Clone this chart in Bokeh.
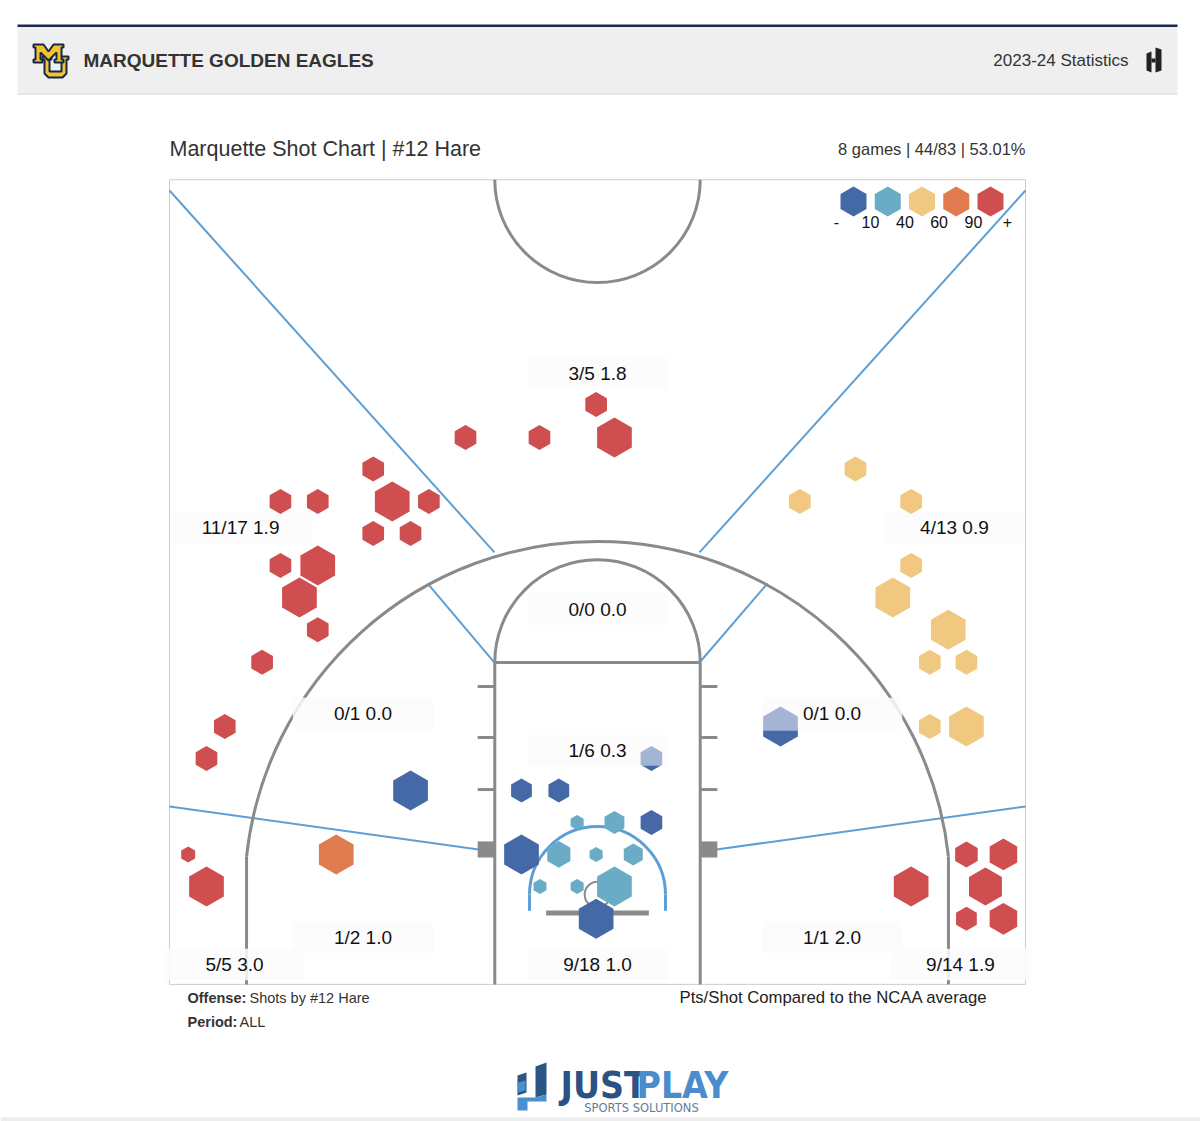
import numpy as np
from bokeh.plotting import figure
from bokeh.models import Range1d
from bokeh.core.properties import value
from bokeh.embed import file_html
from bokeh.resources import INLINE

# ---------------- data ----------------
team_name = "MARQUETTE GOLDEN EAGLES"
season_label = "2023-24 Statistics"
chart_title = "Marquette Shot Chart | #12 Hare"
games_played = 8

# shot zones: makes, attempts, point value
zone_names = ["top three", "left wing three", "right wing three", "top of key",
              "left midrange", "right midrange", "paint", "left baseline",
              "right baseline", "left corner three", "at the rim", "right corner three"]
zone_made = [3, 11, 4, 0, 0, 0, 1, 1, 1, 5, 9, 9]
zone_att = [5, 17, 13, 0, 1, 1, 6, 2, 1, 5, 18, 14]
zone_pts = [3, 3, 3, 2, 2, 2, 2, 2, 2, 3, 2, 3]

# hexbin cells (court feet, hoop at origin), cell size (ft), colour class 0..4
hex_x = [-0.08, -7.71, -3.39, 0.99, -13.10, -18.52, -16.34, -11.99, -9.85, -13.10,
         -10.92, -18.52, -16.34, -17.41, -16.34, -19.59, -21.77, -22.84, -23.91, -22.84,
         21.55, 23.71, 18.32, 22.66, 21.55, 23.71,
         15.07, 11.82, 18.32, 18.32, 17.25, 20.49, 19.41, 21.55, 19.41, 21.55,
         -15.26,
         -1.19, 0.99, -2.26, -0.08, 2.09, -3.36, -1.19, 0.99,
         -10.92, -4.44, -2.26, 3.15, -4.44, -0.08]
hex_y = [28.62, 26.69, 26.69, 26.69, 24.86, 22.96, 22.96, 22.96, 22.96, 21.09,
         21.09, 19.22, 19.22, 17.35, 15.46, 13.57, 9.81, 7.94, 2.34, 0.47,
         2.34, 2.34, 0.47, 0.47, -1.42, -1.42,
         24.86, 22.96, 22.96, 19.22, 17.35, 15.46, 13.57, 13.57, 9.81, 9.81,
         2.34,
         4.21, 4.21, 2.34, 2.34, 2.34, 0.47, 0.47, 0.47,
         6.08, 6.08, 6.08, 4.21, 2.34, -1.42]
hex_size = [0.73, 0.73, 0.73, 1.17, 0.73, 0.73, 0.73, 1.17, 0.73, 0.73,
            0.73, 0.73, 1.17, 1.17, 0.73, 0.73, 0.73, 0.73, 0.47, 1.17,
            0.76, 0.93, 1.17, 1.11, 0.70, 0.93,
            0.73, 0.73, 0.73, 0.73, 1.17, 1.17, 0.73, 0.73, 0.73, 1.17,
            1.17,
            0.44, 0.67, 0.78, 0.44, 0.64, 0.44, 0.44, 1.17,
            1.17, 0.70, 0.70, 0.73, 1.17, 1.17]
hex_class = [4] * 26 + [2] * 10 + [3] + [1] * 8 + [0] * 6

# cells drawn with a faded upper part (share of height kept solid from the bottom)
split_x = [10.69, 3.15]
split_y = [9.81, 7.95]
split_size = [1.17, 0.73]
split_solid = [0.40, 0.22]

legend_ticks = ["-", "10", "40", "60", "90", "+"]
palette = ["#4568a7", "#6aacc6", "#f0c880", "#e07b4f", "#cf4e4f"]
faded_blue = "#a3b4d5"

# ---------------- derived values ----------------
zone_pps = [(m * v / a) if a else 0.0 for m, a, v in zip(zone_made, zone_att, zone_pts)]
zone_text = [f"{m}/{a} {s:.1f}" for m, a, s in zip(zone_made, zone_att, zone_pps)]
tot_made, tot_att = sum(zone_made), sum(zone_att)
summary = f"{games_played} games | {tot_made}/{tot_att} | {100 * tot_made / tot_att:.2f}%"

# zone label anchor points (court feet)
label_x = [0, -20.85, 20.85, 0, -13.7, 13.7, 0, -13.7, 13.7, -21.2, 0, 21.2]
label_y = [30.43, 21.44, 21.44, 16.65, 10.57, 10.57, 8.41, -2.51, -2.51, -4.09, -4.09, -4.09]

FONT = value("Liberation Sans")

# ---------------- figure / layout ----------------
W, H = 1200, 1121
PX_FT = 17.12
HOOP_PX, HOOP_PY = 597.0, 894.0

p = figure(width=W, height=H, x_range=Range1d(0, W), y_range=Range1d(H, 0),
           output_backend="svg", toolbar_location=None, min_border=0,
           x_axis_location=None, y_axis_location=None,
           outline_line_color=None, background_fill_color="white",
           border_fill_color="white")
p.xgrid.visible = False
p.ygrid.visible = False

# court coordinates in feet, hoop at the origin
p.extra_x_ranges = {"court": Range1d(-HOOP_PX / PX_FT, (W - HOOP_PX) / PX_FT)}
p.extra_y_ranges = {"court": Range1d((HOOP_PY - H) / PX_FT, HOOP_PY / PX_FT)}
CK = dict(x_range_name="court", y_range_name="court")


def hex_ring(cx, cy, r):
    ang = np.deg2rad(np.arange(30, 390, 60))
    return list(cx + r * np.cos(ang)), list(cy + r * np.sin(ang))


def clip_half(xs, ys, y0, keep_below):
    pts = list(zip(xs, ys))
    inside = (lambda q: q[1] <= y0) if keep_below else (lambda q: q[1] >= y0)
    out = []
    for i in range(len(pts)):
        a, b = pts[i], pts[(i + 1) % len(pts)]
        ia, ib = inside(a), inside(b)
        if ia:
            out.append(a)
        if ia != ib:
            t = (y0 - a[1]) / (b[1] - a[1])
            out.append((a[0] + t * (b[0] - a[0]), y0))
    return [q[0] for q in out], [q[1] for q in out]


# ---------------- page header ----------------
p.quad(left=17, right=1177, top=24, bottom=26.5, fill_color="#1d2b4a", line_color=None)
p.quad(left=17, right=1177, top=26.5, bottom=93, fill_color="#efefef", line_color=None)
p.segment(x0=17, y0=93.5, x1=1177, y1=93.5, line_color="#d2d2d2", line_width=1)

# MU monogram
u_x = [42, 51, 51, 49, 49, 61, 61, 59, 59, 68, 68, 66, 66, 62, 48, 44, 44, 42]
u_y = [56, 56, 59, 59, 71, 71, 59, 59, 56, 56, 59, 59, 73, 77, 77, 73, 59, 59]
m_x = [33, 43, 48, 53, 63, 63, 61, 61, 63, 63, 54, 54, 56, 56, 48, 40, 40, 42, 42, 33, 33, 35, 35, 33]
m_y = [44, 44, 51, 44, 44, 47, 47, 59, 59, 62, 62, 59, 59, 52, 60, 52, 59, 59, 62, 62, 59, 59, 47, 47]
p.patches(xs=[u_x, m_x], ys=[u_y, m_y], fill_color="#f2c230", line_color="#13294b", line_width=2)

p.text(x=[83], y=[60], text=[team_name], text_font=FONT, text_font_style="bold",
       text_font_size="19px", text_color="#333333", text_align="left", text_baseline="middle")
p.text(x=[1128], y=[60], text=[season_label], text_font=FONT, text_font_size="17px",
       text_color="#333333", text_align="right", text_baseline="middle")
# small brand mark
p.patches(xs=[[1146, 1151, 1151, 1146], [1155, 1161, 1161, 1155], [1151, 1155, 1155, 1151]],
          ys=[[53, 51, 72, 70], [47, 49, 70, 72], [58, 58, 62, 62]],
          fill_color="#222222", line_color=None)

# ---------------- chart titles ----------------
p.text(x=[169], y=[148], text=[chart_title], text_font=FONT, text_font_size="21.5px",
       text_color="#333333", text_align="left", text_baseline="middle")
p.text(x=[1025], y=[148], text=[summary], text_font=FONT, text_font_size="16.5px",
       text_color="#333333", text_align="right", text_baseline="middle")

# ---------------- court ----------------
GRAY = "#8a8a8a"
BLUE = "#5c9fd6"
BASE, TOP = -5.25, 41.75
LANE, FT = 6.0, 13.55
R3, C3 = 20.62, 20.5
y_meet = np.sqrt(R3 ** 2 - C3 ** 2)
th0 = np.arctan2(y_meet, C3)

p.quad(left=-25, right=25, bottom=BASE, top=TOP, fill_color=None,
       line_color="#cccccc", line_width=1, **CK)

# zone boundaries
p.multi_line(xs=[[-25, -6.02], [25, 5.96], [-9.93, -6.02], [9.93, 5.96], [-25, -6.95], [25, 6.95]],
             ys=[[41.12, 19.98], [41.12, 19.98], [18.17, 13.55], [18.17, 13.55], [5.14, 2.63], [5.14, 2.63]],
             line_color=BLUE, line_width=2, **CK)

# restricted area
p.arc(x=0, y=0, radius=3.97, start_angle=0, end_angle=np.pi, line_color=BLUE, line_width=3, **CK)
p.multi_line(xs=[[-3.97, -3.97], [3.97, 3.97]], ys=[[0, -0.95], [0, -0.95]],
             line_color=BLUE, line_width=3, **CK)

# centre circle, lane, free throw circle, three point line
p.arc(x=0, y=TOP, radius=6, start_angle=np.pi, end_angle=2 * np.pi, line_color=GRAY, line_width=3, **CK)
p.multi_line(xs=[[-LANE, -LANE], [LANE, LANE], [-LANE, LANE]],
             ys=[[BASE, FT], [BASE, FT], [FT, FT]], line_color=GRAY, line_width=3, **CK)
p.arc(x=0, y=FT, radius=6, start_angle=0, end_angle=np.pi, line_color=GRAY, line_width=3, **CK)
p.arc(x=0, y=0, radius=R3, start_angle=th0, end_angle=np.pi - th0, line_color=GRAY, line_width=3, **CK)
p.multi_line(xs=[[-C3, -C3], [C3, C3]], ys=[[BASE, y_meet], [BASE, y_meet]],
             line_color=GRAY, line_width=3, **CK)

# lane hash marks and blocks
hash_y = [12.15, 9.17, 6.13]
p.multi_line(xs=[[-7, -6]] * 3 + [[6, 7]] * 3, ys=[[h, h] for h in hash_y] * 2,
             line_color=GRAY, line_width=3, **CK)
p.quad(left=[-7, 6], right=[-6, 7], bottom=[2.16, 2.16], top=[3.1, 3.1],
       fill_color=GRAY, line_color=None, **CK)

# backboard and rim
p.segment(x0=-3, y0=-1.08, x1=3, y1=-1.08, line_color=GRAY, line_width=5, **CK)
p.arc(x=0, y=0, radius=0.75, start_angle=0, end_angle=2 * np.pi, line_color=GRAY, line_width=2, **CK)

# soft panels behind zone labels
p.rect(x=label_x, y=label_y, width=8.2, height=1.85, fill_color="#fcfcfc", fill_alpha=0.85,
       line_color=None, **CK)

# ---------------- hexbins ----------------
order = sorted(range(len(hex_x)), key=lambda i: (hex_class[i] == 0, i))
hx, hy, hc = [], [], []
for i in order:
    xs, ys = hex_ring(hex_x[i], hex_y[i], hex_size[i])
    hx.append(xs)
    hy.append(ys)
    hc.append(palette[hex_class[i]])
p.patches(xs=hx, ys=hy, fill_color=hc, line_color=None, **CK)

sx, sy, sc = [], [], []
for cx, cy, r, f in zip(split_x, split_y, split_size, split_solid):
    xs, ys = hex_ring(cx, cy, r)
    cut = cy - r + 2 * r * f
    lx, ly = clip_half(xs, ys, cut, keep_below=False)
    dx, dy = clip_half(xs, ys, cut, keep_below=True)
    sx += [lx, dx]
    sy += [ly, dy]
    sc += [faded_blue, palette[0]]
p.patches(xs=sx, ys=sy, fill_color=sc, line_color=None, **CK)

# zone labels
p.text(x=label_x, y=label_y, text=zone_text, text_font=FONT, text_font_size="19px",
       text_color="#111111", text_align="center", text_baseline="middle", **CK)

# ---------------- colour legend ----------------
leg_cx = [853, 887.25, 921.5, 955.75, 990]
lx, ly = [], []
for cx in leg_cx:
    xs, ys = hex_ring(cx, 201, 15)
    lx.append(xs)
    ly.append(ys)
p.patches(xs=lx, ys=ly, fill_color=palette, line_color=None)
tick_x = [836, 870, 904.4, 938.6, 972.9, 1007]
p.text(x=tick_x, y=[221] * 6, text=legend_ticks, text_font=FONT, text_font_size="16px",
       text_color="#111111", text_align="center", text_baseline="middle")

# ---------------- footnotes ----------------
p.text(x=[187, 187], y=[997, 1021], text=["Offense:", "Period:"], text_font=FONT,
       text_font_style="bold", text_font_size="14.5px", text_color="#333333",
       text_align="left", text_baseline="middle")
p.text(x=[249, 239], y=[997, 1021], text=["Shots by #12 Hare", "ALL"], text_font=FONT,
       text_font_size="14.5px", text_color="#333333", text_align="left", text_baseline="middle")
p.text(x=[679], y=[997], text=["Pts/Shot Compared to the NCAA average"], text_font=FONT,
       text_font_size="16.7px", text_color="#222222", text_align="left", text_baseline="middle")

# ---------------- footer brand ----------------
p.patches(xs=[[517, 526, 526, 517], [535, 546, 546, 535]],
          ys=[[1075, 1072, 1092, 1095], [1066, 1062, 1094, 1097]],
          fill_color="#2a5585", line_color=None)
p.patches(xs=[[517, 535, 546, 546, 527, 527, 517], [517, 525, 525, 517]],
          ys=[[1097, 1097, 1094, 1101, 1101, 1110, 1110], [1082, 1080, 1090, 1092]],
          fill_color="#4a8fce", line_color=None)
NARROW = value("Liberation Sans Narrow, DejaVu Sans Condensed, sans-serif")
p.text(x=[560], y=[1085], text=["JUST"], text_font=NARROW, text_font_style="bold",
       text_font_size="37px", text_color="#2b5283", text_align="left", text_baseline="middle")
p.text(x=[636], y=[1085], text=["PLAY"], text_font=NARROW, text_font_style="bold",
       text_font_size="37px", text_color="#4a8ccc", text_align="left", text_baseline="middle")
p.text(x=[641], y=[1107], text=["SPORTS SOLUTIONS"], text_font=value("DejaVu Sans"),
       text_font_size="11.5px", text_color="#5f7d9c", text_align="center", text_baseline="middle")
p.quad(left=0, right=W, top=1117, bottom=H, fill_color="#ececec", line_color=None)

open("out.html", "w").write(file_html(p, INLINE))
